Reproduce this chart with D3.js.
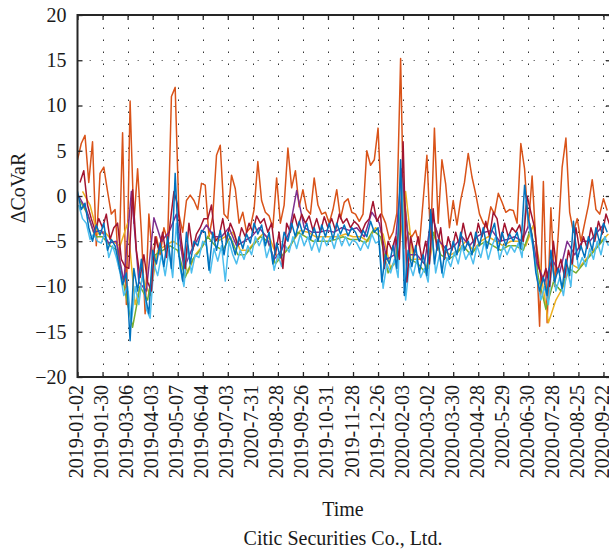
<!DOCTYPE html>
<html>
<head>
<meta charset="utf-8">
<script src="https://cdn.jsdelivr.net/npm/d3@7"></script>
<style>
  body { margin: 0; background: #fff; }
  svg { display: block; font-family: "Liberation Serif", "Times New Roman", serif; }
</style>
</head>
<body>
<svg width="609" height="552"></svg>
<script>
// tick labels (every 20 trading days), copied as printed
const tickLabels = ['2019-01-02', '2019-01-30', '2019-03-06', '2019-04-03', '2019-05-07', '2019-06-04',
    '2019-07-03', '2020-7-31', '2019-08-28', '2019-09-26', '2019-10-31', '2019-11-28', '2019-12-26',
    '2020-02-03', '2020-03-02', '2020-03-30', '2020-04-28', '2020-5-29', '2020-06-30', '2020-07-28',
    '2020-08-25', '2020-09-22'];

const yTicks = [-20, -15, -10, -5, 0, 5, 10, 15, 20];

// ΔCoVaR (one value every 3 trading days)
const orangeVals = [4.0, 5.8, 6.7, 1.5, 6.0, -5.5, 2.5, 3.2, 0.5, -2.0,
    -1.5, -8.0, 7.0, -12.0, 10.5, -3.0, 3.0, -4.0, -13.0, -2.0,
    -7.0, -4.5, -6.5, -3.5, -5.0, 11.0, 12.0, -2.0, -4.0, -0.5,
    0.1, -0.5, -1.5, 1.4, 1.2, -4.5, -2.2, 4.5, 5.6, -2.0,
    -2.5, 2.3, 0.8, -3.0, -1.8, -4.0, -3.5, -1.5, 3.8, -0.5,
    -1.8, -2.2, -3.5, 2.0, -3.0, -1.0, 5.3, 0.9, 2.8, -1.2,
    0.7, -1.5, -2.0, 2.0, -1.0, -2.0, -1.8, -3.0, -1.5, 0.7,
    -2.5, -0.7, -0.3, -1.8, -2.0, -2.8, -2.0, 5.0, 3.4, 4.0,
    7.5, -2.0, -3.0, -4.8, -4.0, -1.9, 15.2, -5.8, -4.0, -4.5,
    -3.8, -5.5, -0.5, 4.5, -5.0, 7.5, -3.0, 4.0, 1.3, -3.5,
    -0.5, -3.2, -0.4, 1.5, 4.7, 2.1, 0.2, -2.0, -3.0, -3.5,
    -1.2, -2.0, 0.3, -0.7, -1.8, -1.5, -1.6, -3.0, 5.8, 3.0,
    -3.5, 2.2, -5.0, -14.4, 1.6, -14.0, -1.3, -10.0, -4.0, 3.2,
    6.4, -1.8, -4.0, -2.5, -5.0, -3.0, -1.0, 1.8, -1.5, -2.0,
    -0.3, -1.6];

const blueVals = [0.5, -1.5, -0.8, -3.5, -5.0, -3.2, -4.3, -3.0, -6.0, -4.8,
    -5.5, -7.5, -9.8, -8.5, -16.0, -8.0, -10.5, -7.0, -11.0, -13.0,
    -6.0, -7.5, -5.2, -7.8, -4.5, -8.0, 2.5, -6.5, -9.4, -4.0,
    -7.5, -5.0, -5.5, -3.8, -4.0, -8.2, -4.0, -6.0, -3.8, -6.5,
    -4.0, -5.0, -6.5, -4.5, -5.8, -4.2, -5.2, -3.0, -4.2, -3.2,
    -5.5, -4.0, -7.5, -5.2, -6.8, -4.0, -5.0, -3.0, -4.5, -2.8,
    -4.2, -3.0, -4.8, -3.5, -5.0, -3.2, -4.5, -3.0, -4.8, -3.0,
    -4.2, -3.2, -4.4, -3.5, -4.0, -5.0, -3.8, -4.5, -2.8, -4.0,
    -3.5, -9.5, -6.5, -7.5, -5.5, -8.0, 4.0, -11.0, -6.0, -7.8,
    -5.5, -8.5, -6.5, -8.8, -1.5, -7.5, -4.8, -8.5, -5.5, -7.0,
    -5.0, -6.5, -4.0, -6.0, -5.0, -6.5, -4.0, -5.5, -3.5, -5.8,
    -4.2, -3.0, -6.0, -4.0, -5.5, -4.2, -5.0, -4.0, -5.8, 1.2,
    -2.5, -4.5, -8.5, -10.5, -9.0, -11.0, -6.0, -9.5, -8.0, -10.2,
    -7.0, -8.8, -2.8, -7.0, -5.5, -6.8, -4.5, -6.0, -3.5, -5.2,
    -3.0, -4.0];

const darkRedVals = [1.5, 2.8, -1.0, -2.5, -3.8, -2.5, -3.5, -2.0, -4.8, -3.5,
    -3.0, -7.0, -7.8, -8.0, 0.7, -6.0, -9.0, -6.5, -9.5, -10.5,
    -4.5, -6.0, -4.0, -6.8, -3.0, 0.5, -1.0, -5.0, -8.0, -3.0,
    -6.0, -4.2, -3.5, -2.5, -2.5, -1.0, -5.0, -4.5, -2.5, -5.0,
    -3.0, -4.0, -5.5, -3.5, -4.5, -3.0, -4.0, -2.2, -3.0, -2.5,
    -4.0, -3.0, -6.5, -4.0, -8.0, -3.0, -4.0, -2.0, -3.5, -2.0,
    -3.0, -2.2, -3.8, -2.5, -4.0, -2.3, -3.5, -2.5, -3.8, -2.0,
    -3.0, -2.5, -3.5, -2.8, -3.2, -4.0, -3.0, -2.5, -0.6, -2.8,
    -2.0, -8.0, -5.0, -6.0, -4.5, -7.0, 6.0, -9.5, -4.5, -6.5,
    -4.5, -7.0, -5.0, -7.5, -1.4, -6.0, -3.5, -7.0, -4.5, -6.0,
    -4.0, -5.5, -3.0, -5.0, -4.0, -5.5, -3.0, -4.5, -2.8, -4.5,
    -1.8, -2.5, -5.0, -3.0, -4.5, -3.5, -4.0, -3.2, -5.0, 0.0,
    -1.8, -3.5, -7.5, -9.5, -8.0, -10.0, -5.0, -8.5, -7.0, -9.0,
    -6.0, -7.5, -3.5, -6.0, -4.5, -5.8, -3.5, -5.0, -2.8, -4.2,
    -2.0, -3.2];

const cyanVals = [-1.0, -2.5, -3.0, -4.8, -4.2, -5.0, -5.2, -4.0, -6.8, -5.5,
    -6.8, -8.5, -11.0, -10.0, -14.0, -10.0, -12.0, -8.5, -12.5, -13.5,
    -7.5, -8.8, -6.5, -8.8, -6.0, -9.0, -3.0, -8.0, -10.0, -5.5,
    -8.5, -6.5, -6.8, -5.0, -5.5, -8.5, -5.8, -7.2, -5.5, -9.4,
    -5.0, -6.5, -7.5, -6.0, -7.0, -5.5, -6.5, -4.5, -5.5, -4.5,
    -6.8, -5.5, -8.2, -6.5, -7.8, -5.5, -6.2, -4.5, -5.8, -4.2,
    -5.5, -4.5, -6.0, -4.8, -6.2, -4.5, -5.5, -4.5, -5.8, -4.2,
    -5.5, -4.5, -5.5, -4.8, -5.2, -6.0, -5.0, -5.8, -4.2, -5.2,
    -5.0, -10.2, -7.5, -8.5, -7.0, -9.0, 2.0, -11.5, -7.5, -8.8,
    -7.0, -9.0, -8.0, -9.5, -4.0, -8.5, -6.5, -9.0, -6.8, -7.8,
    -6.2, -7.5, -5.5, -7.0, -6.2, -7.5, -5.5, -6.8, -5.0, -7.0,
    -5.5, -4.5, -7.0, -5.5, -6.5, -5.5, -6.2, -5.2, -6.8, -0.5,
    -3.8, -5.8, -9.0, -11.5, -10.0, -12.0, -7.5, -10.5, -9.0, -11.0,
    -8.0, -10.0, -4.5, -8.0, -6.8, -7.8, -5.8, -7.0, -5.0, -6.5,
    -4.5, -5.5];

// these three sit mostly inside the bundle (one value every 6 days)
const purpleVals = [0.0, -1.5, -4.0, -3.8, -5.2, -5.0, -9.5, 0.5, -9.5, -10.5,
    -2.4, -5.0, -4.0, -2.0, -8.0, -6.0, -4.5, -3.2, -4.5, -4.5,
    -3.5, -5.5, -5.0, -4.5, -3.5, -4.5, -7.0, -6.0, -4.0, 0.6,
    -3.5, -4.0, -4.0, -3.8, -4.0, -3.5, -3.8, -3.5, -4.5, -1.8,
    -3.0, -7.0, -6.5, 3.0, -6.5, -6.5, -7.5, -2.0, -5.0, -6.0,
    -5.5, -4.5, -5.5, -4.5, -4.0, -3.8, -5.0, -4.8, -4.5, -5.0,
    -3.0, -7.5, -9.5, -7.0, -8.5, -5.0, -6.5, -5.0, -5.0, -4.0,
    -3.0];

const greenVals = [-0.5, -2.0, -4.5, -4.5, -5.5, -6.0, -10.5, -14.5, -10.0, -11.5,
    -6.5, -6.0, -5.5, -6.0, -9.0, -7.0, -6.0, -4.5, -5.5, -6.0,
    -4.5, -6.5, -6.5, -5.5, -4.5, -5.0, -7.5, -6.5, -5.5, -4.0,
    -4.5, -5.0, -5.0, -5.0, -4.8, -4.5, -4.8, -4.8, -5.2, -3.8,
    -4.5, -8.5, -7.0, 1.0, -7.0, -7.5, -8.5, -4.0, -6.5, -7.0,
    -6.5, -5.5, -6.5, -5.5, -5.0, -5.5, -6.0, -5.5, -5.5, -6.0,
    -3.5, -9.0, -12.5, -9.5, -10.5, -8.0, -8.5, -7.5, -6.5, -5.5,
    -4.5];

const yellowVals = [0.5, -1.0, -4.2, -4.0, -5.0, -5.5, -3.0, -12.0, -9.0, -11.0,
    -6.0, -5.5, -5.0, -5.5, -8.5, -6.5, -5.5, -4.0, -5.0, -4.5,
    -4.0, -6.0, -6.0, -5.0, -4.2, -4.8, -7.0, -6.2, -5.0, -3.8,
    -4.0, -4.5, -4.5, -4.5, -4.5, -4.2, -4.5, -4.5, -5.0, -3.5,
    -4.2, -8.0, -7.0, 0.5, -7.0, -7.0, -8.0, -3.5, -6.0, -6.5,
    -6.0, -5.0, -6.0, -5.0, -4.5, -5.0, -5.5, -5.0, -5.0, -5.5,
    -3.2, -8.5, -14.0, -11.5, -10.0, -7.5, -8.0, -7.0, -6.0, -5.0,
    -4.2];

// draw order: first = bottom
const SERIES = [
    {vals: orangeVals, color: '#D95319', step: 3, offset: 0},
    {vals: yellowVals, color: '#EDB120', step: 6, offset: 4},
    {vals: greenVals, color: '#77AC30', step: 6, offset: 2},
    {vals: purpleVals, color: '#7E2F8E', step: 6, offset: 1},
    {vals: cyanVals, color: '#4DBEEE', step: 3, offset: 1},
    {vals: darkRedVals, color: '#A2142F', step: 3, offset: 2},
    {vals: blueVals, color: '#0072BD', step: 3, offset: 0},
];

const PLOT = {left: 77.5, right: 611, top: 15, bottom: 377};
const N_DAYS = 426;

const x = d3.scaleLinear().domain([0, N_DAYS]).range([PLOT.left, PLOT.right]);
const y = d3.scaleLinear().domain([-20, 20]).range([PLOT.bottom, PLOT.top]);

const svg = d3.select('svg');
const tickIdx = tickLabels.map((d, i) => i * 20);

svg.append('defs').append('clipPath').attr('id', 'plotClip')
    .append('rect')
    .attr('x', PLOT.left).attr('y', PLOT.top)
    .attr('width', PLOT.right - PLOT.left).attr('height', PLOT.bottom - PLOT.top);

// dotted grid
const grid = svg.append('g')
    .attr('stroke', '#333')
    .attr('stroke-width', 1)
    .attr('stroke-dasharray', '1.5,10.5');

grid.selectAll('.vgrid')
    .data(tickIdx.slice(1))
    .enter()
    .append('line')
    .attr('x1', d => Math.round(x(d)) + 0.5).attr('x2', d => Math.round(x(d)) + 0.5)
    .attr('y1', PLOT.bottom).attr('y2', PLOT.top);

grid.selectAll('.hgrid')
    .data(yTicks.slice(1, -1))
    .enter()
    .append('line')
    .attr('stroke', '#777')
    .attr('x1', PLOT.left).attr('x2', PLOT.right)
    .attr('y1', d => Math.round(y(d)) + 0.5).attr('y2', d => Math.round(y(d)) + 0.5);

// lines
const lines = svg.append('g').attr('clip-path', 'url(#plotClip)');

SERIES.forEach(s => {
    const line = d3.line()
        .x((d, i) => x(i * s.step + s.offset))
        .y(d => y(d));
    lines.append('path')
        .datum(s.vals)
        .attr('fill', 'none')
        .attr('stroke', s.color)
        .attr('stroke-width', 1.5)
        .attr('stroke-linejoin', 'round')
        .attr('d', line);
});

// axes (ticks point inward)
const tickFmt = d3.format('d');

const yAxis = svg.append('g')
    .attr('transform', `translate(${PLOT.left}, 0)`)
    .call(d3.axisLeft(y).tickValues(yTicks).tickFormat(tickFmt).tickSize(-5).tickPadding(11));

svg.append('g')
    .attr('transform', `translate(${PLOT.right}, 0)`)
    .call(d3.axisRight(y).tickValues(yTicks).tickFormat('').tickSize(-5));

const xAxis = svg.append('g')
    .attr('transform', `translate(0, ${PLOT.bottom})`)
    .call(d3.axisBottom(x).tickValues(tickIdx).tickFormat((d, i) => tickLabels[i]).tickSize(-5));

svg.append('g')
    .attr('transform', `translate(0, ${PLOT.top})`)
    .call(d3.axisTop(x).tickValues(tickIdx).tickFormat('').tickSize(-5));

svg.selectAll('.domain').remove();
svg.selectAll('.tick line').attr('stroke', '#262626').attr('stroke-width', 1.3);

yAxis.selectAll('text')
    .attr('font-size', 20)
    .attr('font-family', '"Liberation Serif", "Times New Roman", serif')
    .attr('fill', '#1a1a1a');

xAxis.selectAll('text')
    .attr('font-size', 20)
    .attr('font-family', '"Liberation Serif", "Times New Roman", serif')
    .attr('fill', '#1a1a1a')
    .attr('text-anchor', 'end')
    .attr('transform', 'rotate(-90)')
    .attr('x', -8)
    .attr('y', 0)
    .attr('dy', '0.25em');

// box
svg.append('path')
    .attr('fill', 'none')
    .attr('stroke', '#262626')
    .attr('stroke-width', 2)
    .attr('d', `M${PLOT.right},${PLOT.top}H${PLOT.left}V${PLOT.bottom}H${PLOT.right}`);

// titles
svg.append('text')
    .attr('transform', 'translate(25, 188) rotate(-90)')
    .attr('text-anchor', 'middle')
    .attr('font-size', 20)
    .attr('fill', '#1a1a1a')
    .text('ΔCoVaR');

svg.append('text')
    .attr('x', 343).attr('y', 516)
    .attr('text-anchor', 'middle')
    .attr('font-size', 20)
    .attr('fill', '#1a1a1a')
    .text('Time');

svg.append('text')
    .attr('x', 343).attr('y', 545)
    .attr('text-anchor', 'middle')
    .attr('font-size', 20)
    .attr('fill', '#1a1a1a')
    .text('Citic Securities Co., Ltd.');
</script>
</body>
</html>
